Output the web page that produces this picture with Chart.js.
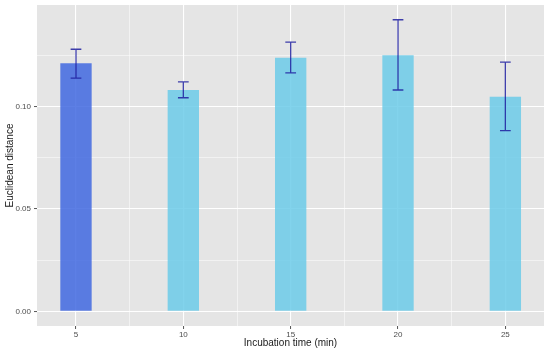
<!DOCTYPE html>
<html>
<head>
<meta charset="utf-8">
<script src="https://cdn.jsdelivr.net/npm/chart.js@4"></script>
<style>
html,body{margin:0;padding:0;background:#fff;}
#c{display:block;}
</style>
</head>
<body>
<canvas id="c" width="550" height="351"></canvas>
<script>
const times = [5, 10, 15, 20, 25];
const distance = [0.1211, 0.1081, 0.1238, 0.1250, 0.1048];
const errLow = [0.1139, 0.1043, 0.1165, 0.1081, 0.0883];
const errHigh = [0.1280, 0.1121, 0.1315, 0.1424, 0.1217];
const xTickValues = [5, 7.5, 10, 12.5, 15, 17.5, 20, 22.5, 25];
const yTickValues = [0, 0.025, 0.05, 0.075, 0.1, 0.125];
const yTickLabels = {"0": "0.00", "0.05": "0.05", "0.1": "0.10"};
const barColors = ['rgba(65,105,225,0.85)', 'rgba(108,203,233,0.85)', 'rgba(108,203,233,0.85)', 'rgba(108,203,233,0.85)', 'rgba(108,203,233,0.85)'];

const panelBg = {
  id: 'panelBg',
  beforeDraw(chart) {
    const {ctx, chartArea: a} = chart;
    ctx.save();
    ctx.fillStyle = '#E5E5E5';
    ctx.fillRect(a.left, a.top, a.right - a.left, a.bottom - a.top);
    ctx.restore();
  }
};

const errorBars = {
  id: 'errorBars',
  afterDatasetsDraw(chart) {
    const {ctx, scales: {x, y}} = chart;
    ctx.save();
    ctx.strokeStyle = 'rgba(30,30,160,0.85)';
    ctx.lineWidth = 1.3;
    times.forEach((t, i) => {
      const cx = x.getPixelForValue(t);
      const xl = x.getPixelForValue(t - 0.25);
      const xr = x.getPixelForValue(t + 0.25);
      const yl = y.getPixelForValue(errLow[i]);
      const yh = y.getPixelForValue(errHigh[i]);
      ctx.beginPath();
      ctx.moveTo(cx, yl); ctx.lineTo(cx, yh);
      ctx.moveTo(xl, yl); ctx.lineTo(xr, yl);
      ctx.moveTo(xl, yh); ctx.lineTo(xr, yh);
      ctx.stroke();
    });
    ctx.restore();
  }
};

const isMajorX = v => Math.abs(v % 5) < 1e-6;
const isMajorY = v => Math.abs((v / 0.05) - Math.round(v / 0.05)) < 1e-6;
const tv = c => (c && c.tick) ? c.tick.value : null;

new Chart(document.getElementById('c'), {
  type: 'bar',
  data: {
    datasets: [{
      data: times.map((t, i) => ({x: t, y: distance[i]})),
      backgroundColor: barColors,
      borderWidth: 0,
      barPercentage: 0.584,
      categoryPercentage: 1
    }]
  },
  options: {
    responsive: false,
    animation: false,
    layout: {padding: {top: 5, right: 6, left: 0, bottom: 0}},
    plugins: {legend: {display: false}, tooltip: {enabled: false}},
    scales: {
      x: {
        type: 'linear',
        offset: false,
        min: 3.184,
        max: 26.8,
        afterBuildTicks(scale) { scale.ticks = xTickValues.map(v => ({value: v})); },
        afterFit(scale) { scale.height = 25; scale.paddingLeft = 0; scale.paddingRight = 0; },
        border: {display: false},
        grid: {
          offset: false,
          color: '#FFFFFF',
          lineWidth: c => { const v = tv(c); return v !== null && isMajorX(v) ? 1.1 : 0.5; },
          drawTicks: true,
          tickLength: 3,
          tickColor: c => { const v = tv(c); return v !== null && isMajorX(v) ? '#555' : 'rgba(0,0,0,0)'; },
          tickWidth: 1
        },
        ticks: {
          autoSkip: false,
          maxRotation: 0,
          padding: 1,
          color: '#4D4D4D',
          font: {family: 'Liberation Sans', size: 8},
          callback: v => isMajorX(v) ? String(v) : ''
        },
        title: {
          display: true,
          text: 'Incubation time (min)',
          color: '#1A1A1A',
          font: {family: 'Liberation Sans', size: 10},
          padding: {top: 0, bottom: 2}
        }
      },
      y: {
        min: -0.00716,
        max: 0.1496,
        afterBuildTicks(scale) { scale.ticks = yTickValues.map(v => ({value: v})); },
        afterFit(scale) { scale.width = 37; scale.paddingTop = 0; scale.paddingBottom = 0; },
        border: {display: false},
        grid: {
          color: '#FFFFFF',
          lineWidth: c => { const v = tv(c); return v !== null && isMajorY(v) ? 1.1 : 0.5; },
          drawTicks: true,
          tickLength: 3,
          tickColor: c => { const v = tv(c); return v !== null && isMajorY(v) ? '#555' : 'rgba(0,0,0,0)'; },
          tickWidth: 1
        },
        ticks: {
          autoSkip: false,
          padding: 3,
          color: '#4D4D4D',
          font: {family: 'Liberation Sans', size: 8},
          callback: v => {
            const k = String(Math.round(v * 1000) / 1000);
            return yTickLabels[k] !== undefined ? yTickLabels[k] : '';
          }
        },
        title: {
          display: true,
          text: 'Euclidean distance',
          color: '#1A1A1A',
          font: {family: 'Liberation Sans', size: 10},
          padding: {top: 4, bottom: 0}
        }
      }
    }
  },
  plugins: [panelBg, errorBars]
});
</script>
</body>
</html>
